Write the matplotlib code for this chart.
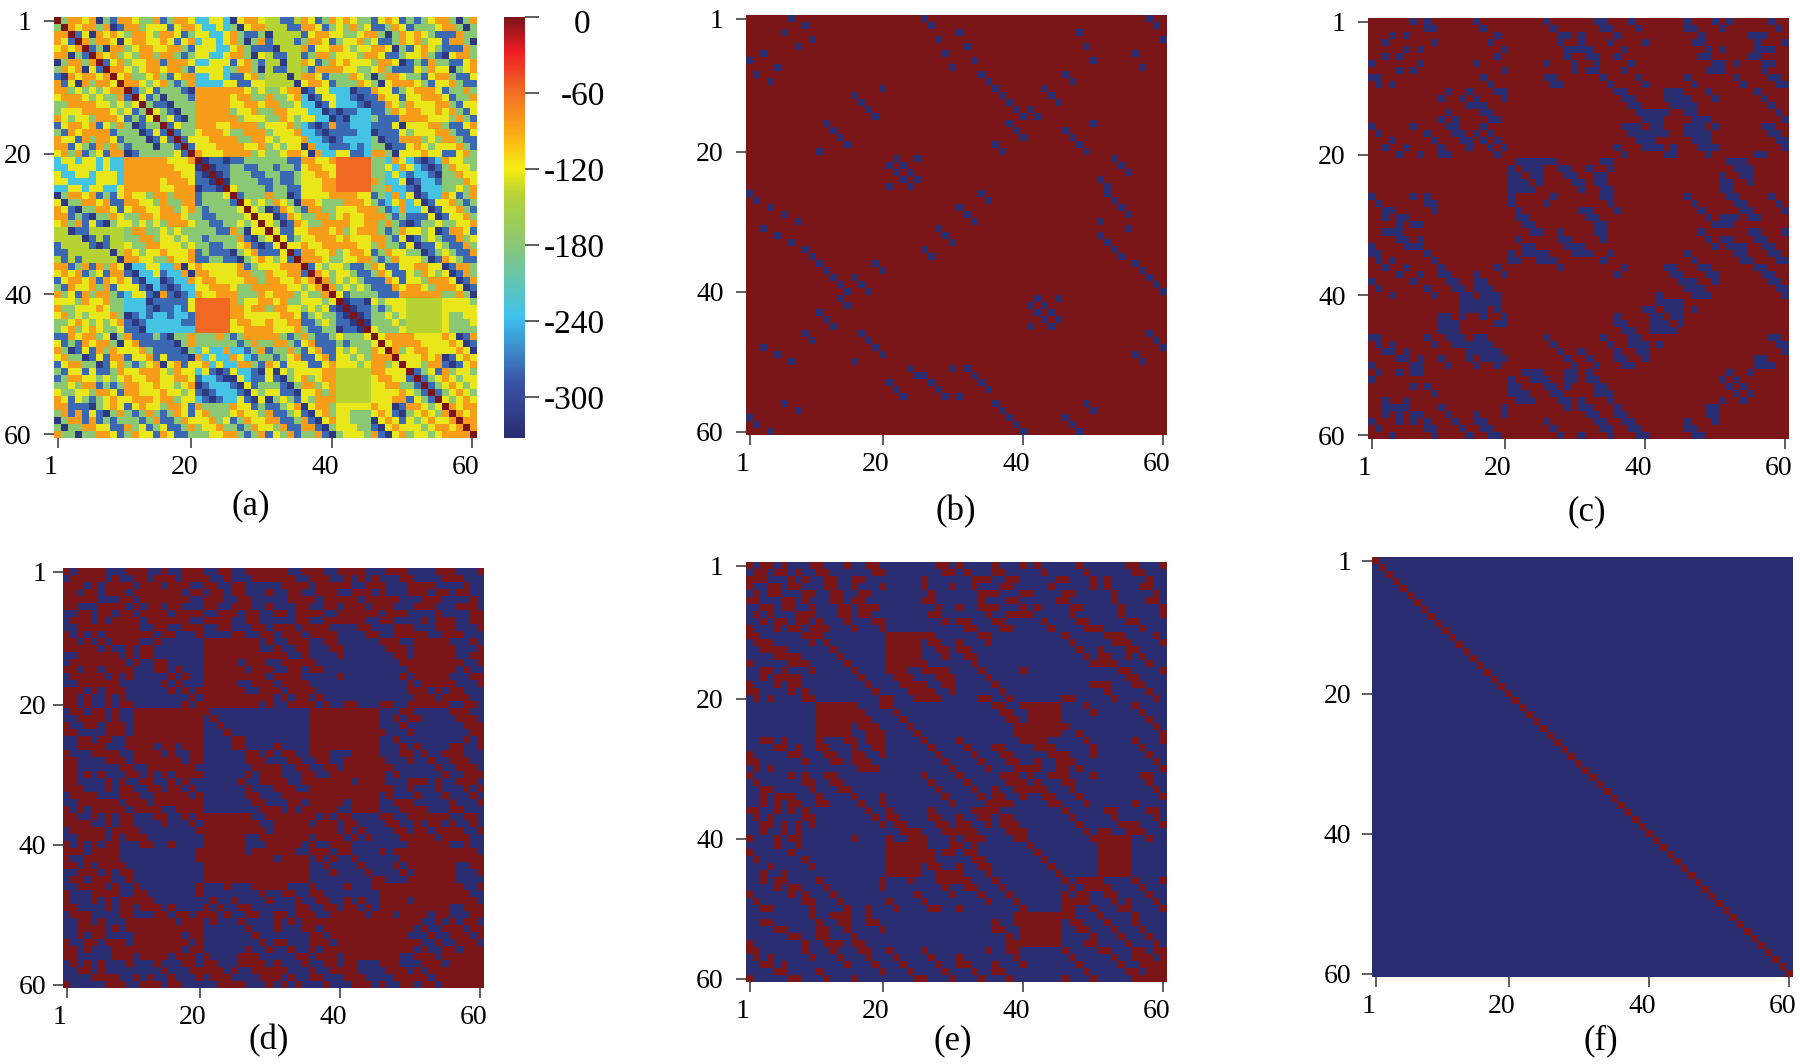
import numpy as np
import matplotlib
matplotlib.use("Agg")
import matplotlib.pyplot as plt
from matplotlib.colors import LinearSegmentedColormap, ListedColormap
from matplotlib.transforms import ScaledTranslation

plt.rcParams['font.family'] = ['Liberation Serif', 'DejaVu Sans']

N = 60
tick_values = [1, 20, 40, 60]
cbar_ticks = [0, -60, -120, -180, -240, -300]
vmin, vmax = -332, 0
panel_names = ['(a)', '(b)', '(c)', '(d)', '(e)', '(f)']

# Blue cells of panel (b), row by row (complete rows).
b_blue = [
 "7,26,58","9,27,59","6,31,48","10,28,60","8,32,49","3,29,56","1,33,50","5,30,57","2,34,46","4,35,47",
 "20,36,43","16,37,44","17,38,45","18,39,41","19,40,42","12,38,50","13,39,46","14,40,47","15,36,48","11,37,49",
 "22,25,53","21,23,54","22,24,55","23,25,51","21,24,52","1,34,52","2,35,53","4,31,54","6,32,55","8,33,51",
 "3,28,55","5,29,51","7,30,52","9,26,53","10,27,54","11,19,56","12,20,57","13,16,58","14,17,59","15,18,60",
 "14,42,45","15,41,43","11,42,44","12,43,45","13,41,44","9,17,58","10,18,59","3,19,60","5,20,56","7,16,57",
 "24,30,32","25,26,33","21,27,34","22,28,35","23,29,31","6,36,49","8,37,50","1,38,46","2,39,47","4,40,48",
]

# Blue cells of panel (c): columns right of the diagonal, row by row.
c_blue_upper = [
 "7,9,16,26,33,34,38,46,50,52,58","9,10,17,27,34,35,39,46,47,51,59","4,6,19,28,29,31,36,48,55,56,57",
 "10,18,28,31,35,40,47,48,56,60","6,8,20,29-32,37,49,51,56-58","19,29,32,33,36,48,49,55,56",
 "8,16,26,30,33,38,50,51,53,57,58","20,30,32,33,37,49-51,57","17,26,27,34,39,46,53,58,59",
 "18,27,28,35,40,47,54,59,60","12,15,19,20,36,37,43-45,49,56","14,16,20,37,38,43-46,50,57",
 "15-17,38,39,44-47,58","17,18,39-43,46,47,59","18,19,40-42,47-49,60",
 "17,37-39,41,42,46-48,50,57,58","18,38-43,47-49,58,59","19,39-41,48,49,59,60","20,36,40-42,44,49,50,60",
 "37,43,44,49,56,57","22-27,34,35,52-54","23-25,28,29,32,35,53-55","25,29,30,33,34,51,54,55",
 "25,30,31,33,34,51,52,55","31,34,35,51,52","27,34,35,46,52,53,58","35,47,53,54,59","31,32,36,48,54,55,60",
 "32,33,49,51-53,55,56","33,34,50-52","33,34,48,55,56,60","34,49,52,56,57","50,52-54,57,58",
 "35,46,53,54,58,59","47,54,55,59,60","37,43,44,48,49,56,57","44,45,49,50,57,58","45-47,50,58,59",
 "46-48,59,60","42,47-49,60","42-45","44,45,47","45","45","",
 "58,59","59,60","60","56,57","56-58","52,55","53","54","55","","","","","",""
]

# Red cells of panel (d): columns right of the diagonal, row by row.
d_red_upper = [
 "3-6,10-12,15-16,18-20,23-24,27-28,30-32,35-37,40-43,47-49,54-56,60",
 "4-6,9-11,14-16,18-19,21,24,28-29,31-33,37-38,41,43,45-47,49-51,55-57",
 "5,8-10,13-14,17-18,21-22,25-26,29,32-33,36-37,40-41,44-46,50-51,53,56-57",
 "5,7-9,11,13-15,17-19,22-23,25,30-31,34-35,37-39,42-44,46-47,50-52,54-56",
 "8-9,12-13,15-16,18,21-23,26-27,30,33-35,38-40,42,44-46,48-49,52-54,56-57",
 "8,11,13-14,16-17,21-22,25,29-30,34-36,39,41-43,46-48,51-53,57-58",
 "9-10,12-14,17,19-20,23-25,27-28,31-32,35-38,41,43-45,48-50,53-54,58-59",
 "10-11,13,16-18,21-24,27,30,32-34,38-39,41-43,46-47,50-52,55-56,59-60",
 "10-11,14-15,17-19,23-24,27-29,33-35,37-38,43-44,48-50,53-55,60",
 "12-13,15,18,20,25-26,29-30,34-36,38-40,44-45,47-49,51-52,55-57",
 "14-15,19,21-28,30,33-34,38-39,46-48,51-56",
 "13,21-28,31,34-35,39-40,47-49,51-56",
 "16,21-30,32,35,40,48-49,51-56,59-60",
 "15,21-25,27-29,33-36,49-56,60",
 "17,21-25,28-30,33-34,36-37,47,51-56",
 "17-18,21-25,27-29,31-33,37-39,47-49,51-55,58-59",
 "18,21-25,28-30,32-34,38,41,48-50,52-55,59-60",
 "20-26,29-31,33-35,39-40,48-52,54,56-57,60",
 "21-26,28-29,32,34-36,40-41,49-53,55-57",
 "21-27,30,33,36-37,41-42,47,50-55,58",
 "36-45,49-50,57-58",
 "23,36-45,48,50-51,58-59",
 "24,36-45,49,51,59-60",
 "25,36-45,50,60",
 "26,36-45,58",
 "27,36-45,49,51,57-58",
 "28,30,32-33,36-38,42-45,49,52-53,55-57",
 "29,31-34,37-38,41-45,50,53,56-58",
 "30-31,33-35,38-39,41-45,51,54,57-59",
 "31,34-36,39-40,42-45,52,55,58-60",
 "32-33,35-36,40-41,43-46,51-52,54-56,59-60",
 "33-34,36-37,41,43-45,50,52,54,56-57,60",
 "34-38,41-45,50-52,54-55,57-58",
 "35,38-39,42-45,49-50,53,56,58-59",
 "36,39,42-45,50-52,55,57,59-60",
 "37-38,40-41,47-51,54-57",
 "38-39,41-42,48-51,54,56-58",
 "39,41,43,48-52,55,57-59",
 "40,42,44,49-53,56,58-60",
 "41,47-48,50-53,55,58,60",
 "42,46,48-52,55-59",
 "43,47,49-53,56-60",
 "44,48,50-56,59-60",
 "45,49,51-56,60",
 "46,50-56",
 "47,49,51-55,57-58",
 "48,50,52-56,58-59",
 "49,51,53-57,59-60",
 "50-52,54-58,60",
 "51-52,55-59",
 "52,54,56,58-59",
 "53,55,57,59-60",
 "54,56,58,60",
 "55,57,59",
 "56,58,60",
 "57-58,60",
 "58-59",
 "59-60",
 "60",
 "",
]

# Red cells of panel (e): columns right of the diagonal, row by row.
e_red_upper = [
 "3-4,6,10-11,15,18-19,28-29,31,36,40,42,48,55-56,60",
 "3,5-6,8,11-12,19-20,29-30,32,36-37,43,49,51,56-57",
 "7,9,12-13,16-17,26,33-35,38-39,45-46,50,52,58",
 "5,7-8,12-13,16,20,26,30,33,37-38,44,50,52,57-58",
 "9-10,13-14,17-18,27,34-36,40-41,46-47,53,59",
 "7,9,13-14,16-17,26-27,34,38-39,45-46,53,58-59",
 "10,14-15,17-19,28,31,34-36,40,42,47-48,54,60",
 "9-10,14-15,17-18,27-28,35,38-41,47,54,60",
 "11,15,19-20,29,31-32,36-37,43,48-49,55-56",
 "11-12,16,20,32-33,37-38,44,49-51,57",
 "21-27,34-35,46,52-54,59",
 "21-25,27-28,31,35,47,53-55,60",
 "21-25,28-29,31-32,48,51,55-56",
 "21-25,29,32-33,49,51-52,55,57",
 "21-26,33,50-53,58",
 "21-23,26-29,34,40,47-48,54-55,60",
 "22-24,28-30,35,48-49,55-56",
 "23-26,29-30,36,49-52,56-57",
 "24-27,30,37,50,52,58",
 "21,25-28,34-35,38,46-47,53,59",
 "36-37,40-45,49,56",
 "37-38,41-45,50,57",
 "38-39,41-45,58",
 "39-46,59",
 "35,39-45,48,60",
 "31,35,40-43,49,56,60",
 "32,36-37,42-44,50,57",
 "33,37-38,44-46,50,58",
 "34,38-39,42,45-47,59",
 "35,39-42,45-46,48,60",
 "37-39,41,44-46,50,57-58",
 "38-40,42,46-47,58",
 "36,39-43,47,59",
 "36-37,40,43-44,48,60",
 "36-38,44-45,49,56",
 "46,52-53,58-59",
 "38,47,53,59",
 "39,48,54-56,60",
 "40,49,51-52,55-57",
 "50-55,58",
 "51-55","51-55","51-55","51-55","51-55",
 "48-51,56,60",
 "49-52,57",
 "49,52-53,58",
 "53,55,59",
 "54-55,60",
 "52,55-56",
 "56",
 "57",
 "58",
 "59",
 "57,59-60",
 "58,60",
 "59-60",
 "60",
 "",
]

# Colour bands of panel (a), in the order of the thresholds behind (b)-(e).
band_navy = -318
band_blue = -278
band_green = -178
band_yellow = -124
band_orange = -84
band_deep_orange = -58
band_cyan = -232
band_lime = -140
# Regions of panel (a) read as one colour, "rows:cols".
deep_orange_blocks = ["21-25:41-45"]
lime_blocks = ["41-45:51-55", "31-35:1-10"]
cyan_blocks = ["11-20:36-45", "21-28:48-55", "1-10:21-25"]
diag_value = 0


def parse(text):
    out = []
    for part in text.split(','):
        if not part:
            continue
        if '-' in part:
            lo, hi = part.split('-')
            out.extend(range(int(lo), int(hi) + 1))
        else:
            out.append(int(part))
    return out


def from_upper(rows):
    m = np.zeros((N, N), dtype=bool)
    for r, text in enumerate(rows):
        for c in parse(text):
            m[r, c - 1] = True
            m[c - 1, r] = True
    return m


def from_full(rows):
    m = np.zeros((N, N), dtype=bool)
    for r, text in enumerate(rows):
        for c in parse(text):
            m[r, c - 1] = True
    return m


def block_slices(block):
    rr, cc = block.split(':')
    r0, r1 = map(int, rr.split('-'))
    c0, c1 = map(int, cc.split('-'))
    return (r0 - 1, r1), (c0 - 1, c1)


def fill_blocks(mat, blocks, value):
    for block in blocks:
        (r0, r1), (c0, c1) = block_slices(block)
        mat[r0:r1, c0:c1] = value
        mat[c0:c1, r0:r1] = value


identity = np.eye(N, dtype=bool)
b_is_blue = from_full(b_blue)
c_is_blue = from_upper(c_blue_upper) | b_is_blue
e_is_red = (from_upper(e_red_upper) & ~c_is_blue) | identity
d_is_red = (from_upper(d_red_upper) & ~c_is_blue) | e_is_red

a_mat = np.full((N, N), float(band_green))
fill_blocks(a_mat, cyan_blocks, band_cyan)
a_mat[d_is_red] = band_yellow
a_mat[e_is_red] = band_orange
fill_blocks(a_mat, deep_orange_blocks, band_deep_orange)
fill_blocks(a_mat, lime_blocks, band_lime)
a_mat[c_is_blue] = band_blue
a_mat[b_is_blue] = band_navy
a_mat[identity] = diag_value

jet_stops = [(0.0, '#2a2d72'), (0.13, '#3953a4'), (0.29, '#3fc3ee'), (0.45, '#86c77a'),
             (0.58, '#b5d334'), (0.64, '#f7ec13'), (0.72, '#fbb017'), (0.82, '#f26f23'),
             (0.92, '#ed1c24'), (1.0, '#7b1416')]
jet = LinearSegmentedColormap.from_list('paper_jet', jet_stops)
binary = ListedColormap(['#2a2d72', '#7b1618'])

W, H = 1800, 1064
fig = plt.figure(figsize=(W / 100, H / 100), dpi=100, facecolor='white')


def add_panel(x0, x1, y0, y1):
    return fig.add_axes([x0 / W, 1 - y1 / H, (x1 - x0) / W, (y1 - y0) / H])


panel_boxes = [(54, 476, 17, 438), (746, 1167, 15, 435), (1368, 1789, 18, 439),
               (63, 484, 568, 988), (746, 1167, 562, 982), (1372, 1793, 557, 977)]
label_pos = [(251, 506), (956, 512), (1587, 512), (269, 1041), (953, 1041), (1601, 1041)]
y_pads = [9, 9, 9, 5, 9, 8]

matrices = [a_mat, (~b_is_blue).astype(float), (~c_is_blue).astype(float),
            d_is_red.astype(float), e_is_red.astype(float), identity.astype(float)]

for i, (box, mat, name, lp) in enumerate(zip(panel_boxes, matrices, panel_names, label_pos)):
    ax = add_panel(*box)
    if i == 0:
        im = ax.imshow(mat, cmap=jet, vmin=vmin, vmax=vmax, interpolation='nearest', aspect='auto',
                       extent=(0.5, 60.5, 60.5, 0.5))
    else:
        ax.imshow(mat, cmap=binary, vmin=0, vmax=1, interpolation='nearest', aspect='auto',
                  extent=(0.5, 60.5, 60.5, 0.5))
    ax.set_xticks(tick_values)
    ax.set_yticks(tick_values)
    ax.set_xticklabels([str(v) for v in tick_values])
    ax.set_yticklabels([str(v) for v in tick_values])
    ax.tick_params(axis='both', length=7, width=1.1, color='#333333', labelsize=20,
                   labelcolor='black')
    ax.tick_params(axis='x', pad=5)
    ax.tick_params(axis='y', pad=y_pads[i])
    offset = ScaledTranslation(-7 / 100, 0, fig.dpi_scale_trans)
    for lab in ax.get_xticklabels():
        lab.set_transform(lab.get_transform() + offset)
    for sp in ax.spines.values():
        sp.set_visible(False)
    fig.text(lp[0] / W, 1 - lp[1] / H, name, ha='center', va='center', fontsize=25, color='black')

cax = add_panel(504, 525, 17, 438)
cb = fig.colorbar(im, cax=cax)
cb.set_ticks(cbar_ticks)
cb.set_ticklabels([str(v) for v in cbar_ticks])
cb.ax.tick_params(length=10, width=1.1, color='#333333', labelsize=24, pad=8)
for lab, val in zip(cb.ax.get_yticklabels(), cbar_ticks):
    lab.set_horizontalalignment('right')
    dx = 55 if val != 0 else 40
    dy = 0 if val != 0 else -4
    lab.set_transform(lab.get_transform() + ScaledTranslation(dx / 100, dy / 100, fig.dpi_scale_trans))
cb.outline.set_visible(False)

fig.savefig('out.png', dpi=100, facecolor='white')
